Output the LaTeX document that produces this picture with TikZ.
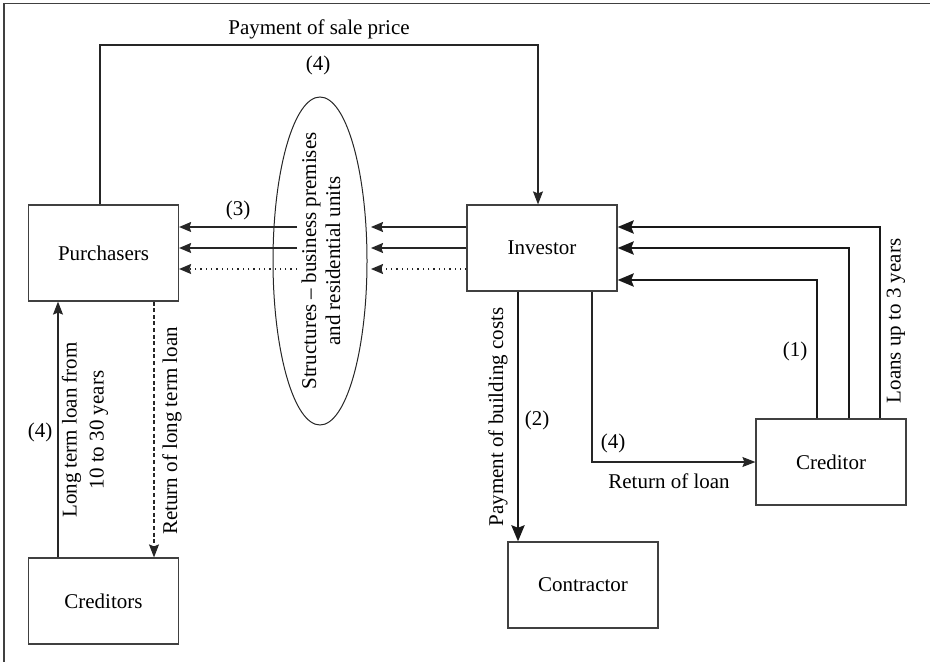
\documentclass[tikz,border=0pt]{standalone}
\usepackage{fontspec}
\setmainfont{Liberation Serif}
\usetikzlibrary{arrows.meta,shapes.geometric}
\begin{document}
\begin{tikzpicture}[x=0.5pt,y=-0.5pt,
  font=\fontsize{10.5}{12.5}\selectfont,
  box/.style={draw=black!75, line width=0.6pt, rectangle, inner sep=0pt, minimum width=75pt, minimum height=43pt},
  thinarr/.style={draw=black!85, line width=0.55pt, -{Stealth[length=6.5pt,width=5pt,inset=1pt]}},
  harr/.style={draw=black!85, line width=0.65pt, -{Stealth[length=6pt,width=5pt,inset=0.8pt]}},
  thickarr/.style={draw=black!90, line width=1.4pt, -{Stealth[length=8pt,width=6.5pt,inset=1.2pt]}},
  lbl/.style={inner sep=0pt},
  rlbl/.style={inner sep=0pt, rotate=90, align=center}]
\useasboundingbox (0,0) rectangle (930,662);
% frame
\coordinate (f1) at (4,3.5);
\coordinate (f2) at (930,3.5);
\coordinate (f3) at (4,662);
\draw[black!75, line width=0.8pt] (f3) -- (f1) -- (f2);

% nodes
\node[box, minimum height=48pt] (pur) at (103.5,253) {Purchasers};
\node[box] (cds) at (103.5,601) {Creditors};
\node[box] (inv) at (542,248) {Investor};
\node[box] (crd) at (831,462) {Creditor};
\node[box] (con) at (583,585) {Contractor};
\node[draw=black!85, line width=0.5pt, ellipse, minimum width=47pt, minimum height=164pt, inner sep=0pt] (ell) at (320,261) {};
\node[rlbl, font=\fontsize{10.5}{12}\selectfont] (elltxt) at (321,261) {Structures -- business premises\\and residential units};

% payment of sale price
\coordinate (p1) at (100,45);
\coordinate (p2) at (538,45);
\draw[thinarr] (pur.north -| p1) -- (p1) -- (p2) -- (inv.north -| p2);
\node[lbl] (lps) at (319,29) {Payment of sale price};
\node[lbl] (l4a) at (318,65) {(4)};

% horizontal arrows through the ellipse
\coordinate (la1) at (297,227);
\coordinate (la2) at (297,248);
\coordinate (la3) at (297,269);
\coordinate (ra1) at (371,227);
\coordinate (ra2) at (371,248);
\coordinate (ra3) at (371,269);
\draw[harr] (la1) -- (pur.east |- la1);
\draw[harr] (la2) -- (pur.east |- la2);
\draw[harr, dotted] (la3) -- (pur.east |- la3);
\draw[harr] (inv.west |- ra1) -- (ra1);
\draw[harr] (inv.west |- ra2) -- (ra2);
\draw[harr, dotted] (inv.west |- ra3) -- (ra3);
\node[lbl] (l3) at (238,210) {(3)};

% loans from creditor
\coordinate (k1) at (817,280);
\coordinate (k2) at (849,248);
\coordinate (k3) at (880,227);
\draw[thickarr] (crd.north -| k1) -- (k1) -- (inv.east |- k1);
\draw[thickarr] (crd.north -| k2) -- (k2) -- (inv.east |- k2);
\draw[thickarr] (crd.north -| k3) -- (k3) -- (inv.east |- k3);
\node[lbl] (l1) at (795,351) {(1)};
\node[rlbl] (lloans) at (896,321) {Loans up to 3 years};

% payment of building costs
\coordinate (c1) at (518,300);
\draw[thickarr] (inv.south -| c1) -- (con.north -| c1);
\node[rlbl] (lpbc) at (498,417) {Payment of building costs};
\node[lbl] (l2) at (537,420) {(2)};

% return of loan
\coordinate (r1) at (592,462);
\draw[thinarr] (inv.south -| r1) -- (r1) -- (crd.west);
\node[lbl] (l4b) at (613,443) {(4)};
\node[lbl] (lrl) at (669,481) {Return of loan};

% long term loan
\coordinate (q1) at (58,500);
\coordinate (q2) at (154,500);
\draw[thinarr] (cds.north -| q1) -- (pur.south -| q1);
\draw[thinarr, dashed, dash pattern=on 2pt off 1.3pt] (pur.south -| q2) -- (cds.north -| q2);
\node[lbl] (l4c) at (40,432) {(4)};
\node[rlbl, font=\fontsize{10.5}{13.5}\selectfont] (lltl) at (85,430) {Long term loan from\\10 to 30 years};
\node[rlbl] (lrltl) at (172,431) {Return of long term loan};
\end{tikzpicture}
\end{document}
